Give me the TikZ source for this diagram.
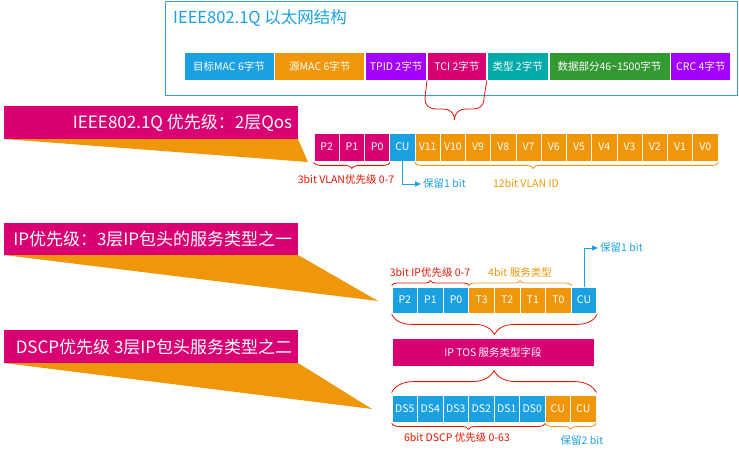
\documentclass[tikz,border=0pt]{standalone}
\usepackage{fontspec}
\setmainfont{Noto Sans CJK SC}
\usetikzlibrary{positioning,decorations.pathreplacing,arrows.meta}
\definecolor{mblue}{HTML}{1BA1E2}
\definecolor{morange}{HTML}{F09609}
\definecolor{mpurple}{HTML}{A200FF}
\definecolor{mmagenta}{HTML}{D80073}
\definecolor{mteal}{HTML}{00ABA9}
\definecolor{mgreen}{HTML}{339933}
\definecolor{mred}{HTML}{E51400}
\definecolor{fblue}{HTML}{3A9AD6}
\tikzset{
  cell/.style={draw=white,line width=0.8pt,text=white,inner sep=0pt,font=\fontsize{10.5}{12}\selectfont},
  fcell/.style={cell,minimum height=28pt},
  vbit/.style={cell,minimum width=25.25pt,minimum height=28pt},
  ibit/.style={cell,minimum width=25.6pt,minimum height=26pt},
  dbit/.style={cell,minimum width=25.5pt,minimum height=27pt},
  callout/.style={fill=mmagenta,minimum height=33pt,minimum width=294pt,anchor=north west,inner sep=0pt},
  ctext/.style={text=white,anchor=east,inner sep=0pt,font=\fontsize{17}{20}\selectfont},
  note/.style={inner sep=0pt,font=\fontsize{10.5}{12}\selectfont},
  brc/.style={decorate,line width=0.8pt,decoration={brace,amplitude=#1}},
  bluearrow/.style={draw=mblue,line width=0.8pt,-{Triangle[length=6pt,width=5pt]},shorten >=2pt},
}
\begin{document}
\begin{tikzpicture}[x=1pt,y=-1pt]
\fill[white] (0,0) rectangle (739,454);
% Frame structure
\node (frame) [draw=fblue,line width=1pt,minimum width=572pt,minimum height=94pt,anchor=north west,inner sep=0pt] at (165,1) {};
\node (title) [anchor=west,inner sep=0pt,text=mblue,font=\fontsize{16.5}{20}\selectfont] at (173,18) {IEEE802.1Q 以太网结构};
\node (f1) [fcell,fill=mblue,minimum width=90pt] at (229,66) {目标MAC 6字节};
\node (f2) [fcell,fill=morange,minimum width=90pt,right=0pt of f1] {源MAC 6字节};
\node (f3) [fcell,fill=mpurple,minimum width=61pt,right=0pt of f2] {TPID 2字节};
\node (f4) [fcell,fill=mmagenta,minimum width=59pt,right=0pt of f3] {TCI 2字节};
\node (f5) [fcell,fill=mteal,minimum width=61pt,right=0pt of f4] {类型 2字节};
\node (f6) [fcell,fill=mgreen,minimum width=121pt,right=0pt of f5] {数据部分46\textasciitilde1500字节};
\node (f7) [fcell,fill=mpurple,minimum width=60pt,right=0pt of f6] {CRC 4字节};
\draw[mred,line width=0.8pt] (f4.south west) -- (425,98) .. controls (425,106) and (429,109) .. (437,109) -- (443,109) .. controls (449,109) and (454.5,112) .. (454.5,120) .. controls (454.5,112) and (460,109) .. (466,109) -- (472,109) .. controls (480,109) and (484,106) .. (484,98) -- (f4.south east);
% Callouts
\fill[morange] (4,139) -- (298,139) -- (308,162) -- cycle;
\node (h1) [callout] at (4,106) {};
\node (c1) [ctext] at ([xshift=-6pt]h1.east) {IEEE802.1Q 优先级：2层Qos};
\fill[morange] (4,255) -- (298,255) -- (378,301) -- cycle;
\node (h2) [callout,minimum height=32pt] at (4,223) {};
\node (c2) [ctext] at ([xshift=-6pt]h2.east) {IP优先级：3层IP包头的服务类型之一};
\fill[morange] (4,363) -- (298,363) -- (372,409) -- cycle;
\node (h3) [callout] at (4,330) {};
\node (c3) [ctext] at ([xshift=-6pt]h3.east) {DSCP优先级 3层IP包头服务类型之二};
% VLAN TCI bits
\draw (326.6,147) node(q1)[vbit,fill=mmagenta] {P2} +(25.25,0) node(q2)[vbit,fill=mmagenta] {P1} +(50.5,0) node(q3)[vbit,fill=mmagenta] {P0} +(75.75,0) node(q4)[vbit,fill=mblue] {CU};
\draw (427.6,147) node(q5)[vbit,fill=morange] {V11} +(25.25,0) node(q6)[vbit,fill=morange] {V10} +(50.5,0) node(q7)[vbit,fill=morange] {V9} +(75.75,0) node(q8)[vbit,fill=morange] {V8} +(101,0) node(q9)[vbit,fill=morange] {V7} +(126.25,0) node(q10)[vbit,fill=morange] {V6};
\draw (579.1,147) node(q11)[vbit,fill=morange] {V5} +(25.25,0) node(q12)[vbit,fill=morange] {V4} +(50.5,0) node(q13)[vbit,fill=morange] {V3} +(75.75,0) node(q14)[vbit,fill=morange] {V2} +(101,0) node(q15)[vbit,fill=morange] {V1} +(126.25,0) node(q16)[vbit,fill=morange] {V0};
\draw[brc=6pt,mred] ([yshift=-1pt]q3.south east) -- ([yshift=-1pt]q1.south west);
\draw[brc=6pt,morange,decoration={aspect=0.61}] ([yshift=-1pt]q16.south east) -- ([yshift=-1pt]q5.south west);
\node (n1) [note,text=mred] at (346,180) {3bit VLAN优先级 0-7};
\node (n2) [note,text=morange] at (526,183) {12bit VLAN ID};
\node (r1) [note,text=mblue,anchor=west] at (423,184) {保留1 bit};
\draw[bluearrow] (q4.south) |- (r1.west);
% IP precedence bits
\draw (404.8,300) node(i1)[ibit,fill=mblue] {P2} +(25.6,0) node(i2)[ibit,fill=mblue] {P1} +(51.2,0) node(i3)[ibit,fill=mblue] {P0} +(76.8,0) node(i4)[ibit,fill=morange] {T3};
\draw (507.2,300) node(i5)[ibit,fill=morange] {T2} +(25.6,0) node(i6)[ibit,fill=morange] {T1} +(51.2,0) node(i7)[ibit,fill=morange] {T0} +(76.8,0) node(i8)[ibit,fill=mblue] {CU};
\draw[brc=5pt,mred] ([yshift=1pt]i1.north west) -- ([yshift=1pt]i3.north east);
\draw[brc=5pt,morange] ([yshift=1pt]i4.north west) -- ([yshift=1pt]i7.north east);
\node (n3) [note,text=mred] at (430,273) {3bit IP优先级 0-7};
\node (n4) [note,text=morange] at (520,273) {4bit 服务类型};
\node (r2) [note,text=mblue,anchor=west] at (600,248) {保留1 bit};
\draw[bluearrow] (i8.north) |- (r2.west);
\draw[brc=20pt,mred] ([yshift=-1pt]i8.south east) -- ([yshift=-1pt]i1.south west);
% TOS field
\node (tos) [cell,fill=mmagenta,minimum width=202pt,minimum height=28pt] at (493,352) {IP TOS 服务类型字段};
% DSCP bits
\draw (404.75,408.5) node(d1)[dbit,fill=mblue] {DS5} +(25.5,0) node(d2)[dbit,fill=mblue] {DS4} +(51,0) node(d3)[dbit,fill=mblue] {DS3} +(76.5,0) node(d4)[dbit,fill=mblue] {DS2};
\draw (506.75,408.5) node(d5)[dbit,fill=mblue] {DS1} +(25.5,0) node(d6)[dbit,fill=mblue] {DS0} +(51,0) node(d7)[dbit,fill=morange] {CU} +(76.5,0) node(d8)[dbit,fill=morange] {CU};
\draw[brc=22pt,mred] ([yshift=2pt]d1.north west) -- ([yshift=2pt]d8.north east);
\draw[brc=6pt,mred] ([yshift=-1pt]d6.south east) -- ([yshift=-1pt]d1.south west);
\draw[brc=6pt,morange] ([yshift=-1pt]d8.south east) -- ([yshift=-1pt]d7.south west);
\node (n5) [note,text=mred] at (457,438) {6bit DSCP 优先级 0-63};
\node (n6) [note,text=mblue] at (582,441) {保留2 bit};
\end{tikzpicture}
\end{document}
